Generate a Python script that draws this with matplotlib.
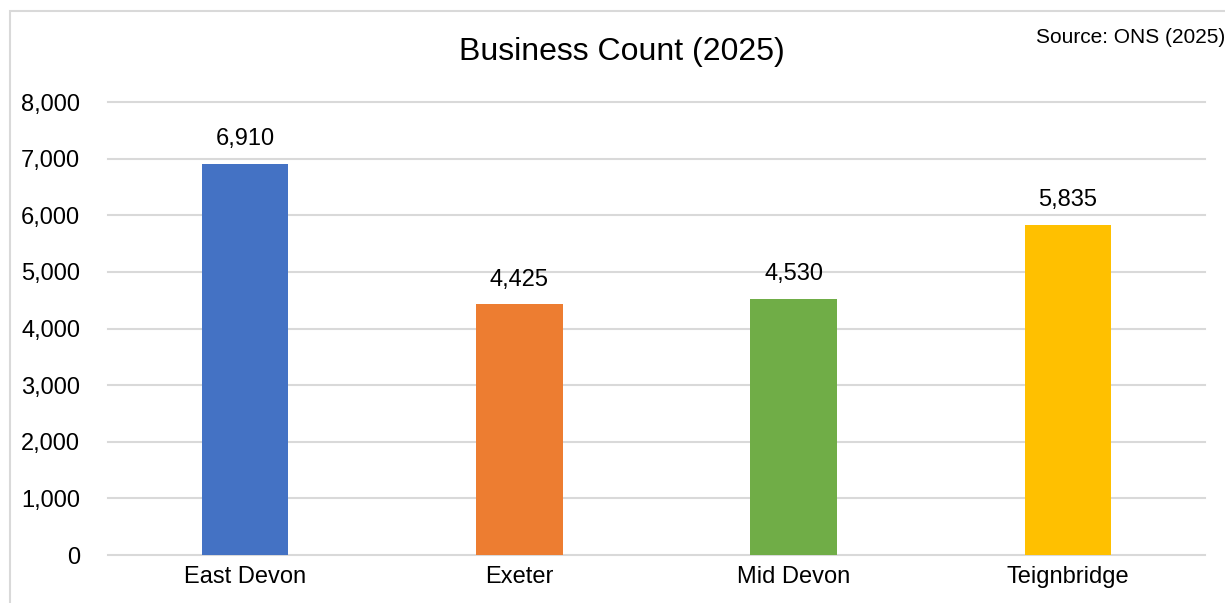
import matplotlib.pyplot as plt
from matplotlib.patches import Rectangle
from matplotlib.ticker import FuncFormatter

plt.rcParams['font.family'] = ['Liberation Sans', 'DejaVu Sans']

categories = ['East Devon', 'Exeter', 'Mid Devon', 'Teignbridge']
counts = [6910, 4425, 4530, 5835]
colors = ['#4472C4', '#ED7D31', '#70AD47', '#FFC000']

fig = plt.figure(figsize=(12.25, 6.03), dpi=100)
ax = fig.add_axes([0.0882, 0.0796, 0.8955, 0.7512])

# outer chart border (runs off the right and bottom edges)
fig.patches.append(Rectangle((10 / 1225, -0.05), 1.2, 1 - 11 / 603 + 0.05,
                             transform=fig.transFigure, fill=False,
                             edgecolor='#d9d9d9', linewidth=1.5))

x = range(len(categories))
bars = ax.bar(x, counts, width=0.315, color=colors, zorder=3)

for b, v in zip(bars, counts):
    ax.annotate(f'{v:,}', xy=(b.get_x() + b.get_width() / 2, v),
                xytext=(0, 10), textcoords='offset points',
                ha='center', va='bottom', fontsize=17, color='#000000')

ax.set_xlim(-0.5, len(categories) - 0.5)
ax.set_ylim(0, 8000)
ax.set_yticks(range(0, 8001, 1000))
ax.yaxis.set_major_formatter(FuncFormatter(lambda v, p: f'{int(v):,}'))
ax.set_xticks(list(x))
ax.set_xticklabels(categories)
ax.tick_params(axis='both', length=0, labelsize=17, colors='#000000')
ax.tick_params(axis='y', pad=20)
ax.tick_params(axis='x', pad=8)

ax.grid(axis='y', color='#d9d9d9', linewidth=1.5, zorder=0)
for gl in ax.get_ygridlines():
    gl.set_clip_on(False)
for s in ax.spines.values():
    s.set_visible(False)

fig.text(0.508, 0.913, 'Business Count (2025)', ha='center', va='center',
         fontsize=23)
fig.text(0.846, 0.938, 'Source: ONS (2025)', ha='left', va='center',
         fontsize=15)

fig.savefig('out.png', dpi=100)
